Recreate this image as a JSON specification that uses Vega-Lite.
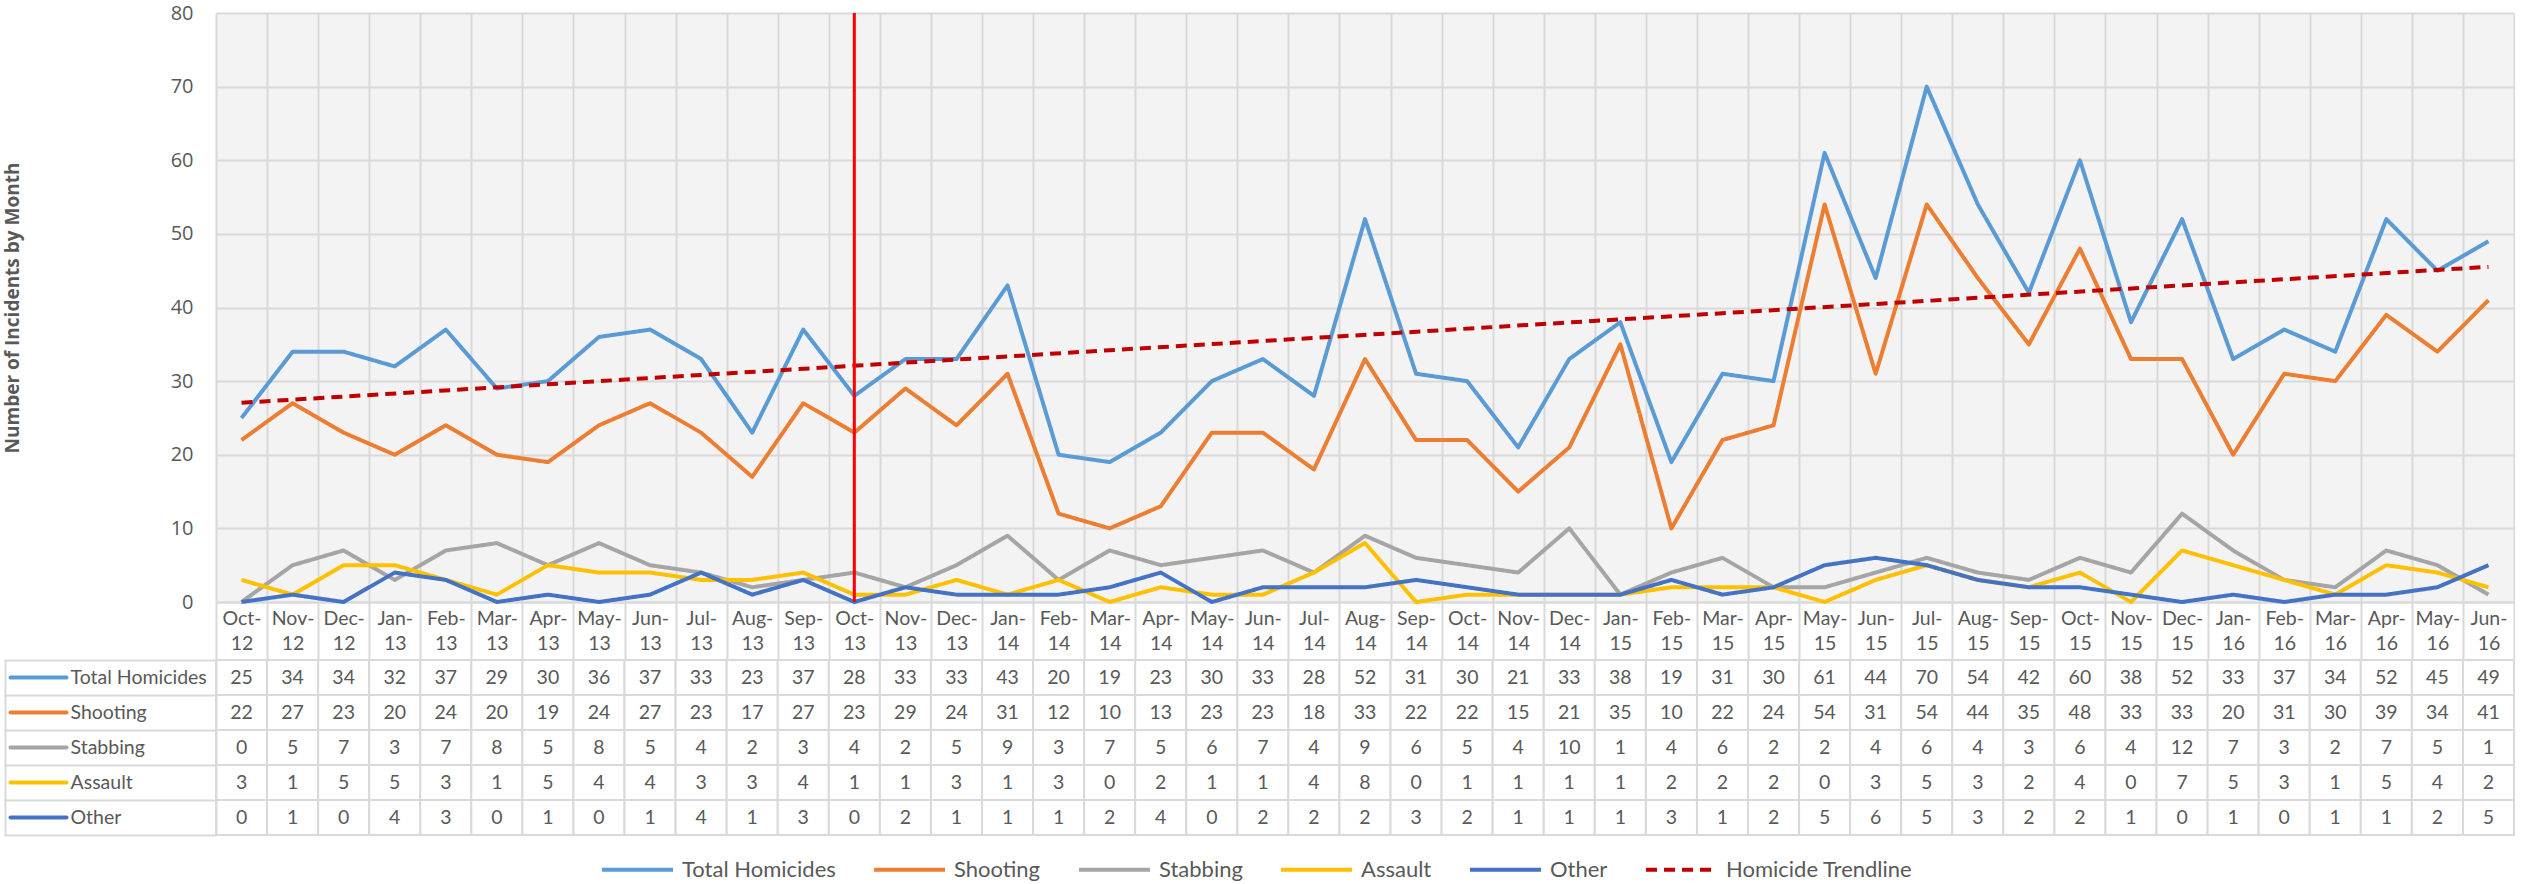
{
  "$schema": "https://vega.github.io/schema/vega-lite/v6.json",
  "padding": {"left": 3, "top": 3, "right": 0, "bottom": 0},
  "background": "white",
  "spacing": 58,
  "bounds": "flush",
  "config": {"view": {"stroke": null}, "font": "Lato"},
  "datasets": {
    "m": [
      {"idx":0,"month":"Oct-12","Total Homicides":25,"Shooting":22,"Stabbing":0,"Assault":3,"Other":0},
      {"idx":1,"month":"Nov-12","Total Homicides":34,"Shooting":27,"Stabbing":5,"Assault":1,"Other":1},
      {"idx":2,"month":"Dec-12","Total Homicides":34,"Shooting":23,"Stabbing":7,"Assault":5,"Other":0},
      {"idx":3,"month":"Jan-13","Total Homicides":32,"Shooting":20,"Stabbing":3,"Assault":5,"Other":4},
      {"idx":4,"month":"Feb-13","Total Homicides":37,"Shooting":24,"Stabbing":7,"Assault":3,"Other":3},
      {"idx":5,"month":"Mar-13","Total Homicides":29,"Shooting":20,"Stabbing":8,"Assault":1,"Other":0},
      {"idx":6,"month":"Apr-13","Total Homicides":30,"Shooting":19,"Stabbing":5,"Assault":5,"Other":1},
      {"idx":7,"month":"May-13","Total Homicides":36,"Shooting":24,"Stabbing":8,"Assault":4,"Other":0},
      {"idx":8,"month":"Jun-13","Total Homicides":37,"Shooting":27,"Stabbing":5,"Assault":4,"Other":1},
      {"idx":9,"month":"Jul-13","Total Homicides":33,"Shooting":23,"Stabbing":4,"Assault":3,"Other":4},
      {"idx":10,"month":"Aug-13","Total Homicides":23,"Shooting":17,"Stabbing":2,"Assault":3,"Other":1},
      {"idx":11,"month":"Sep-13","Total Homicides":37,"Shooting":27,"Stabbing":3,"Assault":4,"Other":3},
      {"idx":12,"month":"Oct-13","Total Homicides":28,"Shooting":23,"Stabbing":4,"Assault":1,"Other":0},
      {"idx":13,"month":"Nov-13","Total Homicides":33,"Shooting":29,"Stabbing":2,"Assault":1,"Other":2},
      {"idx":14,"month":"Dec-13","Total Homicides":33,"Shooting":24,"Stabbing":5,"Assault":3,"Other":1},
      {"idx":15,"month":"Jan-14","Total Homicides":43,"Shooting":31,"Stabbing":9,"Assault":1,"Other":1},
      {"idx":16,"month":"Feb-14","Total Homicides":20,"Shooting":12,"Stabbing":3,"Assault":3,"Other":1},
      {"idx":17,"month":"Mar-14","Total Homicides":19,"Shooting":10,"Stabbing":7,"Assault":0,"Other":2},
      {"idx":18,"month":"Apr-14","Total Homicides":23,"Shooting":13,"Stabbing":5,"Assault":2,"Other":4},
      {"idx":19,"month":"May-14","Total Homicides":30,"Shooting":23,"Stabbing":6,"Assault":1,"Other":0},
      {"idx":20,"month":"Jun-14","Total Homicides":33,"Shooting":23,"Stabbing":7,"Assault":1,"Other":2},
      {"idx":21,"month":"Jul-14","Total Homicides":28,"Shooting":18,"Stabbing":4,"Assault":4,"Other":2},
      {"idx":22,"month":"Aug-14","Total Homicides":52,"Shooting":33,"Stabbing":9,"Assault":8,"Other":2},
      {"idx":23,"month":"Sep-14","Total Homicides":31,"Shooting":22,"Stabbing":6,"Assault":0,"Other":3},
      {"idx":24,"month":"Oct-14","Total Homicides":30,"Shooting":22,"Stabbing":5,"Assault":1,"Other":2},
      {"idx":25,"month":"Nov-14","Total Homicides":21,"Shooting":15,"Stabbing":4,"Assault":1,"Other":1},
      {"idx":26,"month":"Dec-14","Total Homicides":33,"Shooting":21,"Stabbing":10,"Assault":1,"Other":1},
      {"idx":27,"month":"Jan-15","Total Homicides":38,"Shooting":35,"Stabbing":1,"Assault":1,"Other":1},
      {"idx":28,"month":"Feb-15","Total Homicides":19,"Shooting":10,"Stabbing":4,"Assault":2,"Other":3},
      {"idx":29,"month":"Mar-15","Total Homicides":31,"Shooting":22,"Stabbing":6,"Assault":2,"Other":1},
      {"idx":30,"month":"Apr-15","Total Homicides":30,"Shooting":24,"Stabbing":2,"Assault":2,"Other":2},
      {"idx":31,"month":"May-15","Total Homicides":61,"Shooting":54,"Stabbing":2,"Assault":0,"Other":5},
      {"idx":32,"month":"Jun-15","Total Homicides":44,"Shooting":31,"Stabbing":4,"Assault":3,"Other":6},
      {"idx":33,"month":"Jul-15","Total Homicides":70,"Shooting":54,"Stabbing":6,"Assault":5,"Other":5},
      {"idx":34,"month":"Aug-15","Total Homicides":54,"Shooting":44,"Stabbing":4,"Assault":3,"Other":3},
      {"idx":35,"month":"Sep-15","Total Homicides":42,"Shooting":35,"Stabbing":3,"Assault":2,"Other":2},
      {"idx":36,"month":"Oct-15","Total Homicides":60,"Shooting":48,"Stabbing":6,"Assault":4,"Other":2},
      {"idx":37,"month":"Nov-15","Total Homicides":38,"Shooting":33,"Stabbing":4,"Assault":0,"Other":1},
      {"idx":38,"month":"Dec-15","Total Homicides":52,"Shooting":33,"Stabbing":12,"Assault":7,"Other":0},
      {"idx":39,"month":"Jan-16","Total Homicides":33,"Shooting":20,"Stabbing":7,"Assault":5,"Other":1},
      {"idx":40,"month":"Feb-16","Total Homicides":37,"Shooting":31,"Stabbing":3,"Assault":3,"Other":0},
      {"idx":41,"month":"Mar-16","Total Homicides":34,"Shooting":30,"Stabbing":2,"Assault":1,"Other":1},
      {"idx":42,"month":"Apr-16","Total Homicides":52,"Shooting":39,"Stabbing":7,"Assault":5,"Other":1},
      {"idx":43,"month":"May-16","Total Homicides":45,"Shooting":34,"Stabbing":5,"Assault":4,"Other":2},
      {"idx":44,"month":"Jun-16","Total Homicides":49,"Shooting":41,"Stabbing":1,"Assault":2,"Other":5}
    ]
  },
  "resolve": {
    "scale": {"color": "shared", "strokeDash": "shared"},
    "legend": {"color": "shared", "strokeDash": "shared"}
  },
  "vconcat": [
    {
      "width": 2298,
      "height": 589,
      "view": {"fill": "#f3f3f3", "stroke": null},
      "data": {"name": "m"},
      "layer": [
        {
          "transform": [{"fold": ["Total Homicides", "Shooting", "Stabbing", "Assault", "Other"], "as": ["series", "value"]}],
          "mark": {"type": "line", "strokeWidth": 4, "strokeJoin": "round"},
          "encoding": {
            "x": {
              "field": "month", "type": "nominal", "sort": null, "bandPosition": 0.5,
              "scale": {"type": "band", "paddingInner": 0, "paddingOuter": 0},
              "axis": {
                "title": null, "tickBand": "extent", "ticks": true, "tickSize": 58, "tickColor": "#d9d9d9", "tickWidth": 2,
                "grid": true, "gridColor": "#d9d9d9", "gridWidth": 2,
                "domain": true, "domainColor": "#d9d9d9", "domainWidth": 2,
                "labelAngle": 0, "labelExpr": "[slice(datum.label,0,4), slice(datum.label,4)]",
                "labelFont": "Lato", "labelFontSize": 19.5, "labelColor": "#595959", "labelLineHeight": 25,
                "labelBaseline": "top", "labelPadding": -51, "labelOverlap": false, "labelBound": false, "labelFlush": false
              }
            },
            "y": {
              "field": "value", "type": "quantitative",
              "scale": {"domain": [0, 80], "nice": false},
              "axis": {
                "title": "Number of Incidents by Month", "titleFont": "Open Sans", "titleFontWeight": "bold",
                "titleFontSize": 19, "titleColor": "#595959", "titlePadding": 148,
                "values": [0, 10, 20, 30, 40, 50, 60, 70, 80],
                "grid": true, "gridColor": "#d9d9d9", "gridWidth": 2,
                "domain": false, "ticks": false,
                "labelFont": "Open Sans", "labelFontSize": 20, "labelColor": "#595959", "labelPadding": 23
              }
            },
            "color": {
              "field": "series", "type": "nominal",
              "scale": {
                "domain": ["Total Homicides", "Shooting", "Stabbing", "Assault", "Other", "Homicide Trendline"],
                "range": ["#5b9bd5", "#ed7d31", "#a5a5a5", "#ffc000", "#4472c4", "#c00000"]
              },
              "legend": {
                "title": null, "orient": "none", "legendX": 384, "legendY": 819, "direction": "horizontal",
                "symbolType": "stroke", "symbolSize": 5041, "symbolStrokeWidth": 4,
                "labelFont": "Lato", "labelFontSize": 22, "labelColor": "#595959", "labelOffset": 7,
                "columnPadding": 30, "labelLimit": 0
              }
            },
            "strokeDash": {
              "field": "series", "type": "nominal",
              "scale": {
                "domain": ["Total Homicides", "Shooting", "Stabbing", "Assault", "Other", "Homicide Trendline"],
                "range": [[1, 0], [1, 0], [1, 0], [1, 0], [1, 0], [11, 7]]
              },
              "legend": {
                "title": null, "orient": "none", "legendX": 384, "legendY": 819, "direction": "horizontal",
                "symbolType": "stroke", "symbolSize": 5041, "symbolStrokeWidth": 4,
                "labelFont": "Lato", "labelFontSize": 22, "labelColor": "#595959", "labelOffset": 7,
                "columnPadding": 30, "labelLimit": 0
              }
            }
          }
        },
        {
          "transform": [
            {"regression": "Total Homicides", "on": "idx"},
            {"lookup": "idx", "from": {"data": {"name": "m"}, "key": "idx", "fields": ["month"]}}
          ],
          "mark": {"type": "line", "strokeWidth": 4},
          "encoding": {
            "x": {"field": "month", "type": "nominal", "sort": null, "bandPosition": 0.5},
            "y": {"field": "Total Homicides", "type": "quantitative"},
            "color": {"datum": "Homicide Trendline"},
            "strokeDash": {"datum": "Homicide Trendline"}
          }
        },
        {
          "transform": [{"filter": "datum.month === 'Oct-13'"}],
          "mark": {"type": "rule", "color": "#ff0000", "strokeWidth": 3},
          "encoding": {
            "x": {"field": "month", "type": "nominal", "sort": null, "bandPosition": 0.5}
          }
        }
      ]
    },
    {
      "width": 2298,
      "height": 175,
      "data": {"name": "m"},
      "transform": [{"fold": ["Total Homicides", "Shooting", "Stabbing", "Assault", "Other"], "as": ["series", "value"]}],
      "layer": [
        {
          "mark": {"type": "rect", "fill": "white", "stroke": "#d9d9d9", "strokeWidth": 2},
          "encoding": {
            "x": {"field": "month", "type": "nominal", "sort": null, "scale": {"type": "band", "paddingInner": 0, "paddingOuter": 0}, "axis": null},
            "y": {
              "field": "series", "type": "nominal",
              "scale": {"domain": ["Total Homicides", "Shooting", "Stabbing", "Assault", "Other"], "paddingInner": 0, "paddingOuter": 0},
              "axis": {
                "title": null, "orient": "left", "tickBand": "extent", "tickSize": 212, "tickColor": "#d9d9d9", "tickWidth": 2,
                "domainColor": "#d9d9d9", "domainWidth": 2, "grid": false,
                "labelAlign": "left", "labelPadding": -66, "labelFont": "Lato", "labelFontSize": 19.5, "labelColor": "#595959"
              }
            }
          }
        },
        {
          "mark": {"type": "text", "fontSize": 19.5, "color": "#595959", "font": "Lato"},
          "encoding": {
            "x": {"field": "month", "type": "nominal", "sort": null, "bandPosition": 0.5, "axis": null},
            "y": {
              "field": "series", "type": "nominal", "bandPosition": 0.5,
              "axis": {
                "title": null, "orient": "left", "offset": 150, "labels": false, "domain": false, "grid": false,
                "ticks": true, "tickSize": 56, "tickWidth": 4, "tickCap": "round",
                "tickColor": {
                  "condition": [
                    {"test": "datum.value === 'Total Homicides'", "value": "#5b9bd5"},
                    {"test": "datum.value === 'Shooting'", "value": "#ed7d31"},
                    {"test": "datum.value === 'Stabbing'", "value": "#a5a5a5"},
                    {"test": "datum.value === 'Assault'", "value": "#ffc000"}
                  ],
                  "value": "#4472c4"
                }
              }
            },
            "text": {"field": "value", "type": "quantitative"}
          }
        },
        {
          "mark": {"type": "text", "opacity": 0},
          "encoding": {
            "x": {"field": "month", "type": "nominal", "sort": null, "bandPosition": 0.5, "axis": null},
            "y": {
              "field": "series", "type": "nominal", "bandPosition": 0.5,
              "axis": {
                "title": null, "orient": "left", "offset": 211, "labels": false, "ticks": false, "grid": false,
                "domain": true, "domainColor": "#d9d9d9", "domainWidth": 2
              }
            },
            "text": {"field": "value", "type": "quantitative"}
          }
        }
      ],
      "resolve": {"axis": {"y": "independent"}}
    }
  ]
}
